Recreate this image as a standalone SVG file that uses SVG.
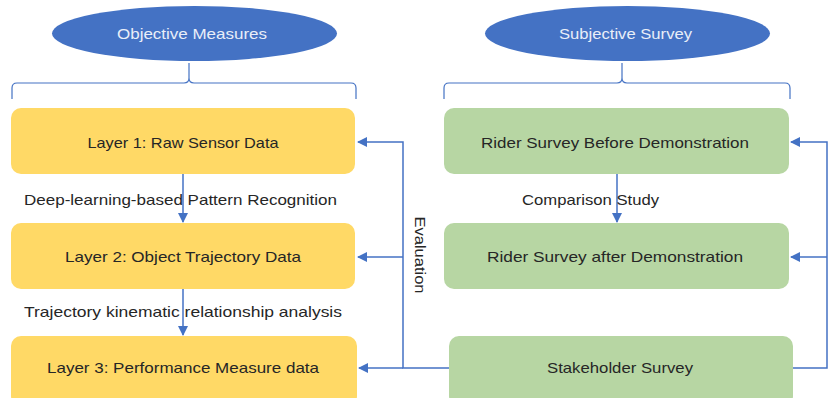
<svg xmlns="http://www.w3.org/2000/svg" width="829" height="398" viewBox="0 0 829 398">
  <defs>
    <marker id="arrow" markerWidth="10" markerHeight="10" refX="9" refY="5" orient="auto" markerUnits="userSpaceOnUse">
      <path d="M0,0 L10,5 L0,10 Z" fill="#4472C4"/>
    </marker>
    <style>
      .ell { fill: #4472C4; }
      .ellText { fill: #E9EEF8; font-family: "Liberation Sans", Arial, sans-serif; font-size: 14.5px; }
      .yellow { fill: #FFD966; }
      .green { fill: #B7D6A3; }
      .label { fill: #262626; font-family: "Liberation Sans", Arial, sans-serif; font-size: 15px; }
      .conn { fill: none; stroke: #4472C4; stroke-width: 1.5; }
      .brace { fill: none; stroke: #4472C4; stroke-width: 1.2; }
    </style>
  </defs>
  <rect width="829" height="398" fill="#FFFFFF"/>

  <!-- category headers -->
  <g id="objective-measures">
    <ellipse class="ell" cx="194.5" cy="33.5" rx="142.5" ry="27.5"/>
    <text class="ellText" x="192" y="38.5" text-anchor="middle" textLength="150" lengthAdjust="spacingAndGlyphs">Objective Measures</text>
    <path class="brace" d="M12,99 L12,88 Q12,83 17,83 L184,83 Q189,83 189,78 L189,63 M189,78 Q189,83 194,83 L351,83 Q356,83 356,88 L356,99"/>
  </g>
  <g id="subjective-survey">
    <ellipse class="ell" cx="627.5" cy="33.5" rx="142.5" ry="27.5"/>
    <text class="ellText" x="625.5" y="38.5" text-anchor="middle" textLength="133" lengthAdjust="spacingAndGlyphs">Subjective Survey</text>
    <path class="brace" d="M444,99 L444,88 Q444,83 449,83 L617,83 Q622,83 622,78 L622,63 M622,78 Q622,83 627,83 L785,83 Q790,83 790,88 L790,99"/>
  </g>

  <!-- objective layers -->
  <g id="layer1">
    <rect class="yellow" x="11" y="108" width="344" height="66" rx="10"/>
    <text class="label" x="183" y="148" text-anchor="middle" textLength="191" lengthAdjust="spacingAndGlyphs">Layer 1:  Raw Sensor Data</text>
  </g>
  <g id="layer2">
    <rect class="yellow" x="11" y="223" width="344" height="66" rx="10"/>
    <text class="label" x="183" y="262" text-anchor="middle" textLength="236" lengthAdjust="spacingAndGlyphs">Layer 2:  Object Trajectory Data</text>
  </g>
  <g id="layer3">
    <rect class="yellow" x="11" y="336" width="346" height="70" rx="10"/>
    <text class="label" x="183" y="373" text-anchor="middle" textLength="272" lengthAdjust="spacingAndGlyphs">Layer 3:  Performance Measure data</text>
  </g>

  <!-- subjective surveys -->
  <g id="rider-before">
    <rect class="green" x="444" y="108" width="345" height="66" rx="10"/>
    <text class="label" x="615" y="148" text-anchor="middle" textLength="268" lengthAdjust="spacingAndGlyphs">Rider Survey  Before  Demonstration</text>
  </g>
  <g id="rider-after">
    <rect class="green" x="444" y="223" width="345" height="66" rx="10"/>
    <text class="label" x="615" y="262" text-anchor="middle" textLength="256" lengthAdjust="spacingAndGlyphs">Rider Survey  after  Demonstration</text>
  </g>
  <g id="stakeholder">
    <rect class="green" x="449" y="336" width="344" height="70" rx="10"/>
    <text class="label" x="620" y="373" text-anchor="middle" textLength="146" lengthAdjust="spacingAndGlyphs">Stakeholder Survey</text>
  </g>

  <!-- connectors -->
  <g id="connectors">
    <line class="conn" x1="183" y1="174" x2="183" y2="222" marker-end="url(#arrow)"/>
    <line class="conn" x1="183" y1="289" x2="183" y2="335" marker-end="url(#arrow)"/>
    <line class="conn" x1="617" y1="174" x2="617" y2="222" marker-end="url(#arrow)"/>

    <!-- evaluation feedback: stakeholder survey to objective layers -->
    <path class="conn" d="M449,368 L403,368 L403,142 L358,142" marker-end="url(#arrow)"/>
    <line class="conn" x1="403" y1="257" x2="358" y2="257" marker-end="url(#arrow)"/>
    <line class="conn" x1="403" y1="368" x2="359" y2="368" marker-end="url(#arrow)"/>

    <!-- feedback to rider surveys -->
    <path class="conn" d="M793,368 L827,368 L827,142 L791,142" marker-end="url(#arrow)"/>
    <line class="conn" x1="827" y1="257" x2="791" y2="257" marker-end="url(#arrow)"/>

    <!-- connector labels -->
    <text class="label" x="24" y="205" textLength="313" lengthAdjust="spacingAndGlyphs">Deep-learning-based Pattern Recognition</text>
    <text class="label" x="24" y="317" textLength="318" lengthAdjust="spacingAndGlyphs">Trajectory kinematic relationship analysis</text>
    <text class="label" x="522" y="205" textLength="137" lengthAdjust="spacingAndGlyphs">Comparison Study</text>
    <text class="label" transform="translate(415,255) rotate(90)" text-anchor="middle" textLength="77" lengthAdjust="spacingAndGlyphs">Evaluation</text>
  </g>
</svg>
